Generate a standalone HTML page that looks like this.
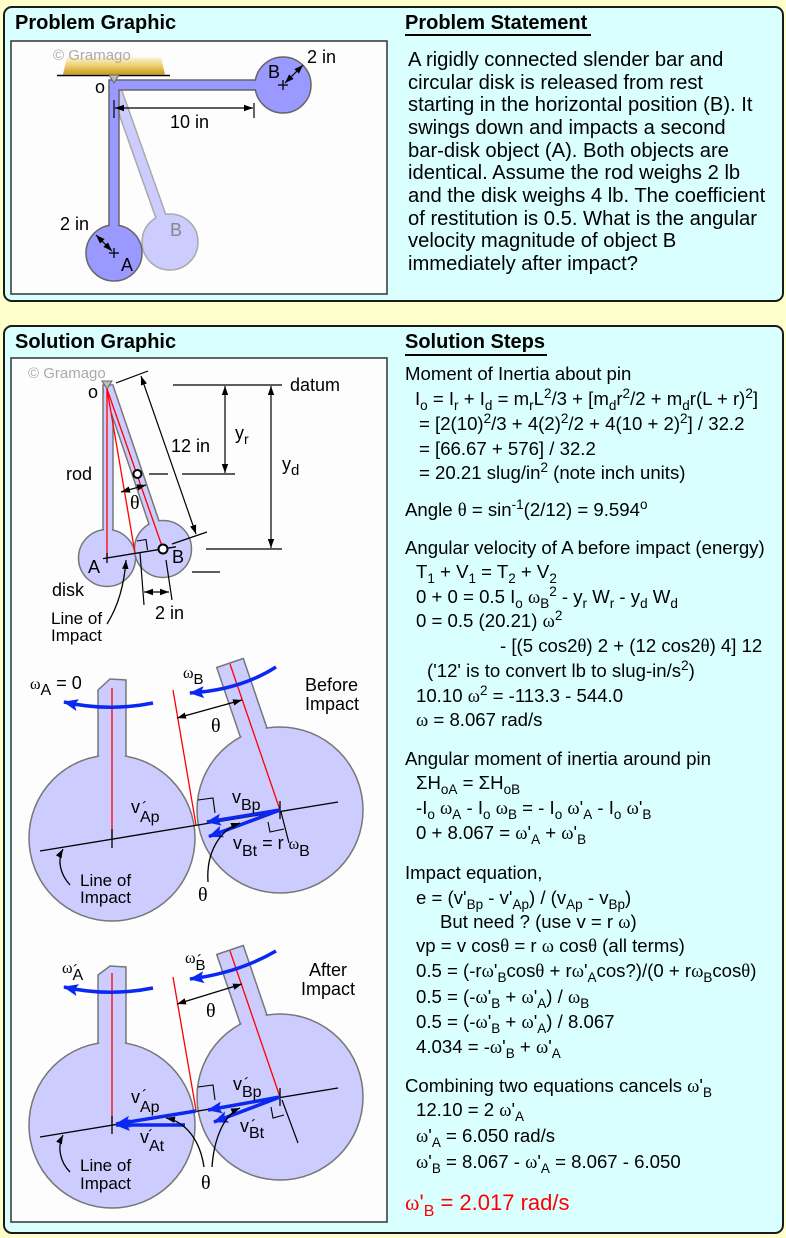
<!DOCTYPE html>
<html><head><meta charset="utf-8">
<style>
html,body{margin:0;padding:0;}
body{width:786px;height:1238px;background:#ffffcc;position:relative;overflow:hidden;font-family:"Liberation Sans",Arial,sans-serif;color:#000;}
.panel{position:absolute;background:#d9ffff;border:2px solid #1a1a1a;border-radius:9px;box-sizing:border-box;}
.title{position:absolute;font-weight:bold;font-size:20px;line-height:20px;white-space:nowrap;}
.ul{position:absolute;background:#000;height:2.5px;}
.ps{position:absolute;left:408px;top:49px;font-size:20.2px;line-height:22.67px;white-space:nowrap;}
.s{position:absolute;font-size:18.6px;line-height:18px;white-space:nowrap;}
.s sub,.s sup{font-size:13.5px;line-height:0;}
.s sub{vertical-align:-5px;}
.s sup{vertical-align:7px;}
.g{font-family:"Liberation Serif",serif;}
svg{position:absolute;left:0;top:0;}
</style></head><body>
<div class="panel" style="left:3px;top:6px;width:781px;height:296px;"></div>
<div class="panel" style="left:3px;top:325px;width:781px;height:909px;"></div>

<div class="title" style="left:15px;top:12.6px;">Problem Graphic</div>
<div class="title" style="left:405px;top:12.6px;">Problem Statement</div>
<div class="ul" style="left:405px;top:33.5px;width:186px;"></div>
<div class="title" style="left:15px;top:332.4px;">Solution Graphic</div>
<div class="title" style="left:405px;top:332.4px;">Solution Steps</div>
<div class="ul" style="left:405px;top:353.5px;width:142px;"></div>

<div class="ps">A rigidly connected slender bar and<br>circular disk is released from rest<br>starting in the horizontal position (B). It<br>swings down and impacts a second<br>bar-disk object (A). Both objects are<br>identical. Assume the rod weighs 2 lb<br>and the disk weighs 4 lb. The coefficient<br>of restitution is 0.5. What is the angular<br>velocity magnitude of object B<br>immediately after impact?</div>

<div class="s" style="left:405px;top:364.7px;">Moment of Inertia about pin</div>
<div class="s" style="left:415px;top:389.7px;">I<sub>o</sub> = I<sub>r</sub> + I<sub>d</sub> = m<sub>r</sub>L<sup>2</sup>/3 + [m<sub>d</sub>r<sup>2</sup>/2 + m<sub>d</sub>r(L + r)<sup>2</sup>]</div>
<div class="s" style="left:419px;top:414.7px;">= [2(10)<sup>2</sup>/3 + 4(2)<sup>2</sup>/2 + 4(10 + 2)<sup>2</sup>] / 32.2</div>
<div class="s" style="left:419px;top:439.7px;">= [66.67 + 576] / 32.2</div>
<div class="s" style="left:419px;top:463.7px;">= 20.21 slug/in<sup>2</sup> (note inch units)</div>
<div class="s" style="left:405px;top:500.7px;">Angle <span class="g">θ</span> = sin<sup>-1</sup>(2/12) = 9.594<sup>o</sup></div>
<div class="s" style="left:405px;top:538.7px;">Angular velocity of A before impact (energy)</div>
<div class="s" style="left:416px;top:562.7px;">T<sub>1</sub> + V<sub>1</sub> = T<sub>2</sub> + V<sub>2</sub></div>
<div class="s" style="left:416px;top:587.7px;">0 + 0 = 0.5 I<sub>o</sub> <span class="g">ω</span><sub>B</sub><sup>2</sup> - y<sub>r</sub> W<sub>r</sub> - y<sub>d</sub> W<sub>d</sub></div>
<div class="s" style="left:416px;top:611.7px;">0 = 0.5 (20.21) <span class="g">ω</span><sup>2</sup></div>
<div class="s" style="left:500px;top:636.7px;">- [(5 cos2<span class="g">θ</span>) 2 + (12 cos2<span class="g">θ</span>) 4] 12</div>
<div class="s" style="left:427px;top:661.7px;">('12' is to convert lb to slug-in/s<sup>2</sup>)</div>
<div class="s" style="left:416px;top:686.7px;">10.10 <span class="g">ω</span><sup>2</sup> = -113.3 - 544.0</div>
<div class="s" style="left:416px;top:710.7px;"><span class="g">ω</span> = 8.067 rad/s</div>
<div class="s" style="left:405px;top:749.7px;">Angular moment of inertia around pin</div>
<div class="s" style="left:416px;top:773.7px;">ΣH<sub>oA</sub> = ΣH<sub>oB</sub></div>
<div class="s" style="left:416px;top:798.7px;">-I<sub>o</sub> <span class="g">ω</span><sub>A</sub> - I<sub>o</sub> <span class="g">ω</span><sub>B</sub> = - I<sub>o</sub> <span class="g">ω</span>'<sub>A</sub> - I<sub>o</sub> <span class="g">ω</span>'<sub>B</sub></div>
<div class="s" style="left:416px;top:823.7px;">0 + 8.067 = <span class="g">ω</span>'<sub>A</sub> + <span class="g">ω</span>'<sub>B</sub></div>
<div class="s" style="left:405px;top:863.7px;">Impact equation,</div>
<div class="s" style="left:416px;top:888.7px;">e = (v'<sub>Bp</sub> - v'<sub>Ap</sub>) / (v<sub>Ap</sub> - v<sub>Bp</sub>)</div>
<div class="s" style="left:440px;top:912.7px;">But need ? (use v = r <span class="g">ω</span>)</div>
<div class="s" style="left:416px;top:936.7px;">vp = v cos<span class="g">θ</span> = r <span class="g">ω</span> cos<span class="g">θ</span> (all terms)</div>
<div class="s" style="left:416px;top:961.7px;">0.5 = (-r<span class="g">ω</span>'<sub>B</sub>cos<span class="g">θ</span> + r<span class="g">ω</span>'<sub>A</sub>cos?)/(0 + r<span class="g">ω</span><sub>B</sub>cos<span class="g">θ</span>)</div>
<div class="s" style="left:416px;top:987.7px;">0.5 = (-<span class="g">ω</span>'<sub>B</sub> + <span class="g">ω</span>'<sub>A</sub>) / <span class="g">ω</span><sub>B</sub></div>
<div class="s" style="left:416px;top:1012.7px;">0.5 = (-<span class="g">ω</span>'<sub>B</sub> + <span class="g">ω</span>'<sub>A</sub>) / 8.067</div>
<div class="s" style="left:416px;top:1037.7px;">4.034 = -<span class="g">ω</span>'<sub>B</sub> + <span class="g">ω</span>'<sub>A</sub></div>
<div class="s" style="left:405px;top:1076.7px;">Combining two equations cancels <span class="g">ω</span>'<sub>B</sub></div>
<div class="s" style="left:416px;top:1100.7px;">12.10 = 2 <span class="g">ω</span>'<sub>A</sub></div>
<div class="s" style="left:416px;top:1126.7px;"><span class="g">ω</span>'<sub>A</sub> = 6.050 rad/s</div>
<div class="s" style="left:416px;top:1152.7px;"><span class="g">ω</span>'<sub>B</sub> = 8.067 - <span class="g">ω</span>'<sub>A</sub> = 8.067 - 6.050</div>
<div class="s" style="left:405px;top:1191.9px;font-size:22px;line-height:22px;color:#ff0000;"><span class="g">ω</span>'<sub style="font-size:16px;vertical-align:-6px;">B</sub> = 2.017 rad/s</div>

<svg width="786" height="1238" xmlns="http://www.w3.org/2000/svg" font-family="'Liberation Sans', Arial, sans-serif">
<defs>
<linearGradient id="gold" x1="0" y1="0" x2="0" y2="1">
<stop offset="0" stop-color="#fdf6d8"/><stop offset="0.45" stop-color="#eed27a"/><stop offset="1" stop-color="#c99a1c"/>
</linearGradient>
<marker id="ah" markerWidth="10" markerHeight="8" refX="9" refY="4" orient="auto-start-reverse" markerUnits="userSpaceOnUse"><path d="M0,0.8 L9,4 L0,7.2 z" fill="#000"/></marker>
<marker id="bh" markerWidth="16" markerHeight="14" refX="14" refY="7" orient="auto-start-reverse" markerUnits="userSpaceOnUse"><path d="M0,1 L15,7 L0,13 L3,7 z" fill="#0a28f0"/></marker>
</defs>

<!-- inner boxes -->
<rect x="11" y="41" width="376" height="253" fill="#fdfdfd" stroke="#333" stroke-width="1.5"/>
<rect x="11" y="358" width="376" height="864" fill="#fdfdfd" stroke="#333" stroke-width="1.5"/>

<!-- ===== Problem graphic ===== -->
<polygon points="63,74.5 67,57 161,57 165,74.5" fill="url(#gold)"/>
<line x1="57" y1="75.5" x2="170" y2="75.5" stroke="#000" stroke-width="1.5"/>
<text x="53" y="60" font-size="15" fill="#aaa">© Gramago</text>

<!-- faded B -->
<line x1="114" y1="84" x2="161.4" y2="217.9" stroke="#aaa" stroke-width="12"/>
<circle cx="170" cy="242" r="28" fill="#ccccff" stroke="#aaa" stroke-width="1.5"/>
<line x1="114" y1="84" x2="162.8" y2="221.7" stroke="#ccccff" stroke-width="9"/>
<text x="170" y="236" font-size="18" fill="#888">B</text>

<!-- L-shaped rod -->
<polygon points="109,80 259,80 259,90 119,90 119,230 109,230" fill="#9999ff" stroke="#666" stroke-width="1.5"/>
<circle cx="283" cy="85" r="28" fill="#9999ff" stroke="#666" stroke-width="1.5"/>
<circle cx="114" cy="253" r="28" fill="#9999ff" stroke="#666" stroke-width="1.5"/>
<rect x="110" y="81" width="8" height="152" fill="#9999ff"/>
<rect x="250" y="81" width="12" height="8" fill="#9999ff"/>
<polygon points="109,75 119,75 114,83" fill="#bbb" stroke="#666" stroke-width="1"/>
<text x="95" y="93" font-size="18">o</text>

<line x1="278" y1="85" x2="288" y2="85" stroke="#000" stroke-width="1.3"/>
<line x1="283" y1="80" x2="283" y2="90" stroke="#000" stroke-width="1.3"/>
<line x1="285" y1="83" x2="303" y2="65" stroke="#000" stroke-width="1.2" marker-start="url(#ah)" marker-end="url(#ah)"/>
<text x="268" y="78" font-size="18">B</text>
<text x="307" y="63" font-size="18">2 in</text>

<line x1="109" y1="253" x2="119" y2="253" stroke="#000" stroke-width="1.3"/>
<line x1="114" y1="248" x2="114" y2="258" stroke="#000" stroke-width="1.3"/>
<line x1="96" y1="235" x2="112" y2="251" stroke="#000" stroke-width="1.2" marker-start="url(#ah)" marker-end="url(#ah)"/>
<text x="121" y="271" font-size="18">A</text>
<text x="60" y="230" font-size="18">2 in</text>

<line x1="114" y1="100" x2="114" y2="118" stroke="#000" stroke-width="1.2"/>
<line x1="254" y1="103" x2="254" y2="118" stroke="#000" stroke-width="1.2"/>
<line x1="115" y1="108" x2="253" y2="108" stroke="#000" stroke-width="1.2" marker-start="url(#ah)" marker-end="url(#ah)"/>
<text x="170" y="128" font-size="18">10 in</text>

<!-- ===== Solution graphic top ===== -->
<text x="28" y="378" font-size="15" fill="#aaa">© Gramago</text>
<rect x="103" y="385" width="10" height="150" fill="#ccccff" stroke="#777" stroke-width="1.5"/>
<line x1="108" y1="387" x2="155.5" y2="526.9" stroke="#777" stroke-width="12"/>
<circle cx="107" cy="558" r="28.5" fill="#ccccff" stroke="#777" stroke-width="1.5"/>
<circle cx="163" cy="549" r="28.5" fill="#ccccff" stroke="#777" stroke-width="1.5"/>
<rect x="104" y="386" width="8" height="148" fill="#ccccff"/>
<line x1="108" y1="387" x2="155.8" y2="527.8" stroke="#ccccff" stroke-width="9"/>
<polygon points="102,381 112,381 107,389" fill="#bbb" stroke="#666" stroke-width="1"/>
<text x="88" y="398" font-size="18">o</text>

<line x1="107" y1="389" x2="107" y2="558" stroke="#f00" stroke-width="1.3"/>
<line x1="107" y1="389" x2="163" y2="549" stroke="#f00" stroke-width="1.3"/>
<line x1="107" y1="389" x2="135" y2="553" stroke="#f00" stroke-width="1.3"/>

<line x1="103" y1="558.6" x2="176" y2="546.8" stroke="#000" stroke-width="1.3"/>
<line x1="107" y1="553" x2="107" y2="563" stroke="#000" stroke-width="1.3"/>
<path d="M137,541 L146,539.5 L147.5,550" fill="none" stroke="#000" stroke-width="1.1"/>
<circle cx="137.4" cy="474" r="4" fill="#fff" stroke="#000" stroke-width="2"/>
<circle cx="163" cy="549" r="4.5" fill="#fff" stroke="#000" stroke-width="2"/>

<line x1="121" y1="492" x2="146" y2="485" stroke="#000" stroke-width="1.2" marker-start="url(#ah)" marker-end="url(#ah)"/>
<text x="130" y="509" font-size="20" font-family="'Liberation Serif', serif">θ</text>
<text x="66" y="480" font-size="18">rod</text>
<line x1="149" y1="474" x2="168" y2="474" stroke="#000" stroke-width="1.3"/>
<line x1="182" y1="474" x2="235" y2="474" stroke="#000" stroke-width="1.3"/>

<line x1="173" y1="385" x2="282" y2="385" stroke="#000" stroke-width="1.3"/>
<text x="290" y="391" font-size="18">datum</text>
<line x1="225" y1="386" x2="225" y2="473" stroke="#000" stroke-width="1.2" marker-start="url(#ah)" marker-end="url(#ah)"/>
<text x="235" y="439" font-size="18">y<tspan dy="5" font-size="14">r</tspan></text>
<line x1="271" y1="386" x2="271" y2="548" stroke="#000" stroke-width="1.2" marker-start="url(#ah)" marker-end="url(#ah)"/>
<text x="282" y="470" font-size="18">y<tspan dy="5" font-size="15">d</tspan></text>
<line x1="206" y1="549" x2="282" y2="549" stroke="#000" stroke-width="1.3"/>
<line x1="192" y1="572" x2="220" y2="572" stroke="#000" stroke-width="1.3"/>

<line x1="116" y1="383" x2="148" y2="371" stroke="#000" stroke-width="1.2"/>
<line x1="172" y1="544" x2="207" y2="532" stroke="#000" stroke-width="1.2"/>
<line x1="141" y1="376" x2="196" y2="534" stroke="#000" stroke-width="1.2" marker-start="url(#ah)" marker-end="url(#ah)"/>
<text x="171" y="452" font-size="18">12 in</text>

<text x="88" y="573" font-size="18">A</text>
<text x="172" y="563" font-size="18">B</text>
<text x="52" y="596" font-size="18">disk</text>
<text x="51" y="624" font-size="17">Line of</text>
<text x="51" y="641" font-size="17">Impact</text>
<path d="M107,624 C117,608 124,588 126,560" fill="none" stroke="#000" stroke-width="1.3" marker-end="url(#ah)"/>
<line x1="140" y1="553" x2="144" y2="605" stroke="#000" stroke-width="1.2"/>
<line x1="166" y1="560" x2="172" y2="600" stroke="#000" stroke-width="1.2"/>
<line x1="144" y1="592" x2="169" y2="592" stroke="#000" stroke-width="1.2" marker-start="url(#ah)" marker-end="url(#ah)"/>
<text x="155" y="619" font-size="18">2 in</text>

<!-- ===== Before impact ===== -->
<polygon points="98,690 110,679 126,680 126,775 98,775" fill="#ccccff" stroke="#777" stroke-width="1.5"/>
<circle cx="112" cy="838" r="83" fill="#ccccff" stroke="#777" stroke-width="1.5"/>
<polygon points="99.2,691 110.4,680.7 124.8,681.6 124.8,780 99.2,780" fill="#ccccff"/>
<polygon points="216.7,667.5 243.3,658.5 272.3,743.7 245.7,752.7" fill="#ccccff" stroke="#777" stroke-width="1.5"/>
<circle cx="280" cy="810" r="83" fill="#ccccff" stroke="#777" stroke-width="1.5"/>
<polygon points="218.2,668.1 242.4,659.9 272.7,748.9 248.5,757.1" fill="#ccccff"/>

<line x1="112" y1="688" x2="112" y2="838" stroke="#f00" stroke-width="1.3"/>
<line x1="230" y1="664" x2="280" y2="810" stroke="#f00" stroke-width="1.3"/>
<line x1="173" y1="690" x2="196" y2="825" stroke="#f00" stroke-width="1.3"/>

<line x1="40" y1="851" x2="338" y2="802" stroke="#000" stroke-width="1.3"/>
<line x1="112" y1="829" x2="112" y2="848" stroke="#000" stroke-width="1.3"/>
<line x1="280" y1="801" x2="280" y2="819" stroke="#000" stroke-width="1.3"/>
<path d="M198,800 L213,798 L215,813" fill="none" stroke="#000" stroke-width="1.1"/>
<path d="M268,822 L270,832 L284,829" fill="none" stroke="#000" stroke-width="1.1"/>
<line x1="281" y1="812" x2="289" y2="843" stroke="#000" stroke-width="1.2"/>

<line x1="280" y1="810" x2="207" y2="822" stroke="#0a28f0" stroke-width="3.5" marker-end="url(#bh)"/>
<line x1="280" y1="810" x2="209" y2="836.5" stroke="#0a28f0" stroke-width="3.5" marker-end="url(#bh)"/>
<path d="M153,703 Q108,712 64,702" fill="none" stroke="#0a28f0" stroke-width="3.5" marker-end="url(#bh)"/>
<path d="M276,667 Q240,690 190,693" fill="none" stroke="#0a28f0" stroke-width="3.5" marker-end="url(#bh)"/>

<text x="30" y="689" font-size="18"><tspan font-family="'Liberation Serif', serif" font-size="16">ω</tspan><tspan dy="6" font-size="16">A</tspan><tspan dy="-6"> = 0</tspan></text>
<text x="183" y="678" font-size="16"><tspan font-family="'Liberation Serif', serif">ω</tspan><tspan dy="6" font-size="15">B</tspan></text>
<text x="305" y="691" font-size="18">Before</text>
<text x="305" y="710" font-size="18">Impact</text>

<line x1="177" y1="718" x2="242" y2="700" stroke="#000" stroke-width="1.2" marker-start="url(#ah)" marker-end="url(#ah)"/>
<text x="211" y="732" font-size="20" font-family="'Liberation Serif', serif">θ</text>

<text x="131" y="813" font-size="18">v<tspan dy="9" font-size="16">Ap</tspan></text>
<text x="142" y="813" font-size="16">´</text>
<text x="232" y="803" font-size="18">v<tspan dy="7" font-size="16">Bp</tspan></text>
<text x="233" y="849" font-size="18">v<tspan dy="7" font-size="16">Bt</tspan><tspan dy="-7"> = r </tspan><tspan font-family="'Liberation Serif', serif" font-size="16">ω</tspan><tspan dy="7" font-size="16">B</tspan></text>

<path d="M208,882 C206,852 220,830 240,823" fill="none" stroke="#000" stroke-width="1.3" marker-end="url(#ah)"/>
<text x="198" y="901" font-size="20" font-family="'Liberation Serif', serif">θ</text>
<text x="80" y="886" font-size="17">Line of</text>
<text x="80" y="903" font-size="17">Impact</text>
<path d="M70,885 C60,874 57,860 63,849" fill="none" stroke="#000" stroke-width="1.3" marker-end="url(#ah)"/>

<!-- ===== After impact ===== -->
<polygon points="98,975 110,966 126,967 126,1062 98,1062" fill="#ccccff" stroke="#777" stroke-width="1.5"/>
<circle cx="112" cy="1125" r="83" fill="#ccccff" stroke="#777" stroke-width="1.5"/>
<polygon points="99.2,976 110.4,967.7 124.8,968.6 124.8,1067 99.2,1067" fill="#ccccff"/>
<polygon points="216.7,954.5 243.3,945.5 272.3,1030.7 245.7,1039.7" fill="#ccccff" stroke="#777" stroke-width="1.5"/>
<circle cx="280" cy="1097" r="83" fill="#ccccff" stroke="#777" stroke-width="1.5"/>
<polygon points="218.2,955.1 242.4,946.9 272.7,1035.9 248.5,1044.1" fill="#ccccff"/>

<line x1="112" y1="973" x2="112" y2="1125" stroke="#f00" stroke-width="1.3"/>
<line x1="230" y1="951" x2="280" y2="1097" stroke="#f00" stroke-width="1.3"/>
<line x1="173" y1="977" x2="196" y2="1110" stroke="#f00" stroke-width="1.3"/>

<line x1="40" y1="1137" x2="338" y2="1088" stroke="#000" stroke-width="1.3"/>
<line x1="112" y1="1116" x2="112" y2="1134" stroke="#000" stroke-width="1.3"/>
<line x1="280" y1="1088" x2="280" y2="1106" stroke="#000" stroke-width="1.3"/>
<path d="M198,1087 L213,1085 L215,1100" fill="none" stroke="#000" stroke-width="1.1"/>
<path d="M271,1107 L273,1118 L284,1115" fill="none" stroke="#000" stroke-width="1.1"/>
<line x1="282" y1="1100" x2="298" y2="1143" stroke="#000" stroke-width="1.2"/>

<line x1="196" y1="1111" x2="116" y2="1124" stroke="#0a28f0" stroke-width="3.5" marker-end="url(#bh)"/>
<line x1="185" y1="1125" x2="116" y2="1125" stroke="#0a28f0" stroke-width="3.5" marker-end="url(#bh)"/>
<line x1="280" y1="1097" x2="208" y2="1110" stroke="#0a28f0" stroke-width="3.5" marker-end="url(#bh)"/>
<line x1="280" y1="1097" x2="214" y2="1122" stroke="#0a28f0" stroke-width="3.5" marker-end="url(#bh)"/>
<path d="M153,988 Q108,997 64,987" fill="none" stroke="#0a28f0" stroke-width="3.5" marker-end="url(#bh)"/>
<path d="M276,951 Q238,973 190,979" fill="none" stroke="#0a28f0" stroke-width="3.5" marker-end="url(#bh)"/>

<text x="62" y="973" font-size="16"><tspan font-family="'Liberation Serif', serif">ω</tspan><tspan dy="7" font-size="16">A</tspan></text>
<text x="73" y="976" font-size="16">´</text>
<text x="185" y="963" font-size="16"><tspan font-family="'Liberation Serif', serif">ω</tspan><tspan dy="7" font-size="15">B</tspan></text>
<text x="197" y="966" font-size="16">´</text>
<text x="328" y="976" font-size="18" text-anchor="middle">After</text>
<text x="328" y="995" font-size="18" text-anchor="middle">Impact</text>

<line x1="177" y1="1004" x2="242" y2="984" stroke="#000" stroke-width="1.2" marker-start="url(#ah)" marker-end="url(#ah)"/>
<text x="206" y="1017" font-size="20" font-family="'Liberation Serif', serif">θ</text>

<text x="131" y="1103" font-size="18">v<tspan dy="9" font-size="16">Ap</tspan></text>
<text x="142" y="1101" font-size="16">´</text>
<text x="140" y="1143" font-size="18">v<tspan dy="8" font-size="16">At</tspan></text>
<text x="148" y="1141" font-size="16">´</text>
<text x="233" y="1090" font-size="18">v<tspan dy="7" font-size="16">Bp</tspan></text>
<text x="244" y="1089" font-size="16">´</text>
<text x="240" y="1132" font-size="18">v<tspan dy="6" font-size="16">Bt</tspan></text>
<text x="251" y="1131" font-size="16">´</text>

<path d="M204,1167 C200,1140 186,1122 166,1118" fill="none" stroke="#000" stroke-width="1.3" marker-end="url(#ah)"/>
<path d="M212,1167 C214,1138 224,1115 240,1108" fill="none" stroke="#000" stroke-width="1.3" marker-end="url(#ah)"/>
<text x="201" y="1189" font-size="20" font-family="'Liberation Serif', serif">θ</text>
<text x="80" y="1171" font-size="17">Line of</text>
<text x="80" y="1189" font-size="17">Impact</text>
<path d="M70,1172 C60,1162 57,1147 63,1135" fill="none" stroke="#000" stroke-width="1.3" marker-end="url(#ah)"/>
</svg>
</body></html>
